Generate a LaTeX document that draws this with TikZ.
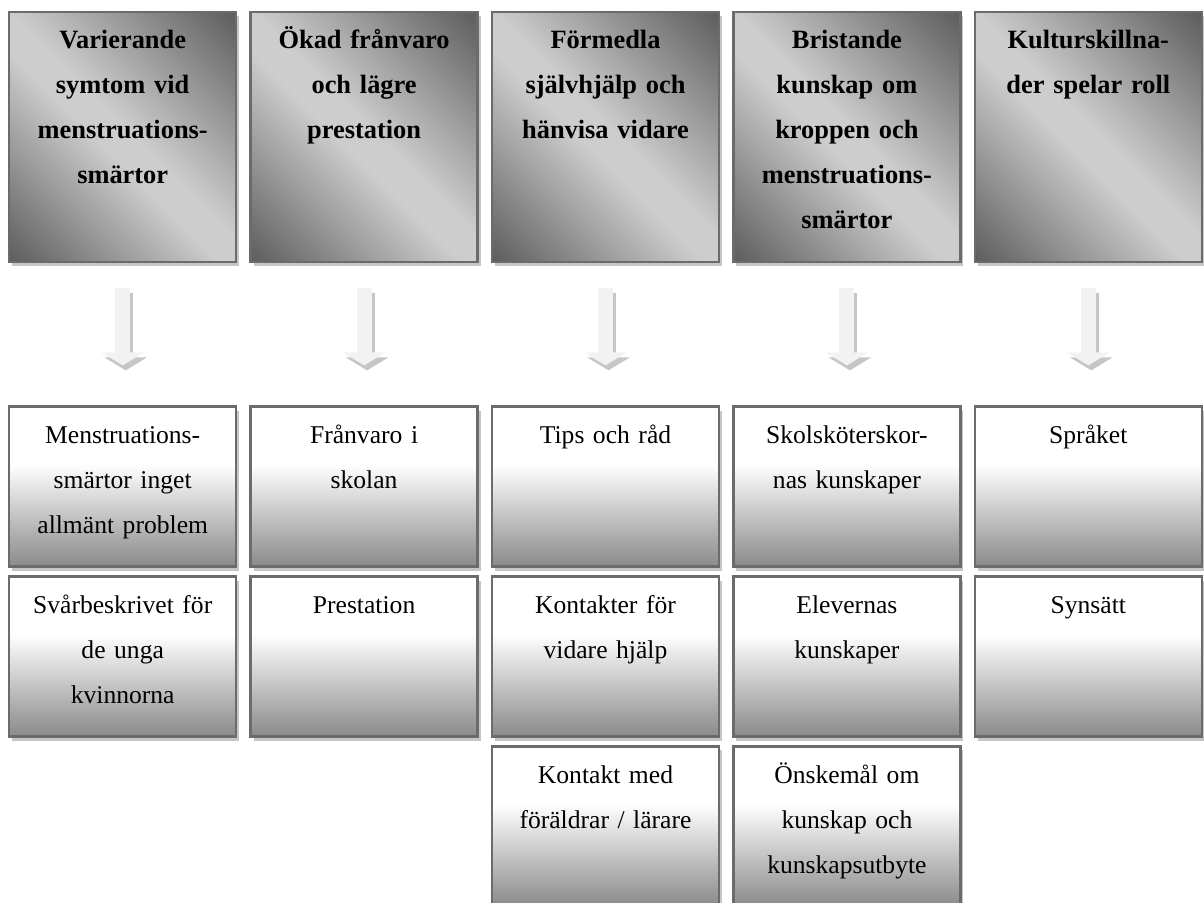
\documentclass[tikz,border=0pt]{standalone}
\usepackage{fontspec}
\setmainfont{Liberation Serif}
\usetikzlibrary{positioning, arrows.meta, shadows}
\definecolor{framecol}{HTML}{6B6B6B}
\definecolor{shadecol}{HTML}{C6C6C6}
\definecolor{darkcol}{HTML}{5E5E5E}
\definecolor{lightcol}{HTML}{CDCDCD}
\definecolor{arrowcol}{HTML}{F2F2F2}
\pgfdeclarehorizontalshading{diagshade}{100bp}{color(0bp)=(darkcol); color(15bp)=(darkcol); color(46bp)=(lightcol); color(52bp)=(lightcol); color(85bp)=(darkcol); color(100bp)=(darkcol)}
\pgfdeclareverticalshading{lowshade}{100bp}{color(0bp)=(black!46); color(25bp)=(black!46); color(57bp)=(white); color(100bp)=(white)}

\begin{document}
\begin{tikzpicture}[
    topbox/.style={rectangle, draw=framecol, line width=1.2pt, shade, shading=diagshade, shading angle=45, drop shadow={shadow xshift=1.5pt, shadow yshift=-2pt, fill=shadecol, opacity=1}, minimum width=113.5pt, text width=105pt, inner xsep=4pt, inner ysep=4pt, text height=14pt, text depth=103pt, align=center, font=\fontsize{13.2pt}{22.5pt}\selectfont\bfseries},
    subbox/.style={rectangle, draw=framecol, line width=1.2pt, shade, shading=lowshade, drop shadow={shadow xshift=1.5pt, shadow yshift=-2pt, fill=shadecol, opacity=1}, minimum width=113.5pt, text width=105pt, inner xsep=4pt, inner ysep=4pt, text height=14.5pt, text depth=57.5pt, align=center, font=\fontsize{12.8pt}{22.5pt}\selectfont},
    arr/.style={line width=7.5pt, draw=arrowcol, -{Triangle[width=21pt, length=6.5pt]}, shorten <=12.5pt, shorten >=20pt},
    arrshadow/.style={arr, draw=shadecol, transform canvas={shift={(1.5pt,-2.5pt)}}},
  ]
    \useasboundingbox (0,0) rectangle (602pt,-451.5pt);

    % themes
    \node[topbox, anchor=north west] (varier) at (4pt,-5.5pt) {Varierande\\symtom vid\\menstruations-\\smärtor};
    \node[topbox, right=6pt of varier] (okad) {Ökad frånvaro\\och lägre\\prestation};
    \node[topbox, right=6pt of okad] (formedla) {Förmedla\\självhjälp och\\hänvisa vidare};
    \node[topbox, right=6pt of formedla] (bristande) {Bristande\\kunskap om\\kroppen och\\menstruations-\\smärtor};
    \node[topbox, right=6pt of bristande] (kultur) {Kulturskillna-\\der spelar roll};

    % sub-themes
    \node[subbox, below=71pt of varier] (varierA) {Menstruations-\\smärtor inget\\allmänt problem};
    \node[subbox, below=3.75pt of varierA] (varierB) {Svårbeskrivet för\\de unga\\kvinnorna};
    \node[subbox, below=71pt of okad] (okadA) {Frånvaro i\\skolan};
    \node[subbox, below=3.75pt of okadA] (okadB) {Prestation};
    \node[subbox, below=71pt of formedla] (formedlaA) {Tips och råd};
    \node[subbox, below=3.75pt of formedlaA] (formedlaB) {Kontakter för\\vidare hjälp};
    \node[subbox, below=3.75pt of formedlaB] (formedlaC) {Kontakt med\\föräldrar / lärare};
    \node[subbox, below=71pt of bristande] (bristandeA) {Skolsköterskor-\\nas kunskaper};
    \node[subbox, below=3.75pt of bristandeA] (bristandeB) {Elevernas\\kunskaper};
    \node[subbox, below=3.75pt of bristandeB] (bristandeC) {Önskemål om\\kunskap och\\kunskapsutbyte};
    \node[subbox, below=71pt of kultur] (kulturA) {Språket};
    \node[subbox, below=3.75pt of kulturA] (kulturB) {Synsätt};

    \foreach \from/\to in {varier/varierA, okad/okadA, formedla/formedlaA, bristande/bristandeA, kultur/kulturA} {
      \draw[arrshadow] (\from) -- (\to);
      \draw[arr] (\from) -- (\to);
    }
\end{tikzpicture}
\end{document}
